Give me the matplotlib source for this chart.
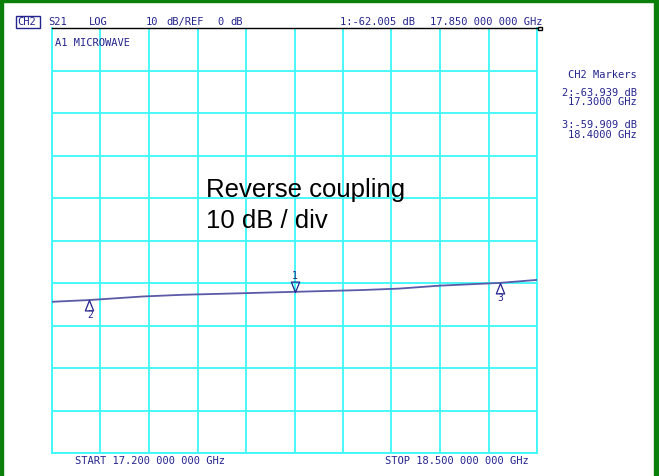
import matplotlib
matplotlib.use("Agg")
import matplotlib.pyplot as plt
from matplotlib.patches import Rectangle
from matplotlib.path import Path

# trace (GHz, dB)
freq = [17.2, 17.3, 17.444, 17.551, 17.704, 17.85, 18.026, 18.13, 18.24, 18.4, 18.5]
s21 = [-64.35, -63.939, -63.1, -62.7, -62.35, -62.005, -61.6, -61.25, -60.55, -59.909, -59.2]

mk_names = ["1", "2", "3"]
mk_freq = [17.85, 17.3, 18.4]
mk_db = [-62.005, -63.939, -59.909]

f_start, f_stop = 17.2, 18.5
ref_db, db_div, n_div = 0, 10, 10

header = ["S21", "LOG", "10", "dB/REF", "0", "dB", "1:-62.005 dB", "17.850 000 000 GHz"]
header_x = [48, 89, 145.5, 166.5, 217, 230, 340, 430]
side_lines = ["CH2 Markers", "2:-63.939 dB", "17.3000 GHz", "3:-59.909 dB", "18.4000 GHz"]
side_y = [78.5, 96, 105, 128.5, 137.5]

W, H = 659, 476
navy = "#24248f"
trace_c = "#5a5aa8"
grid_c = "#3cf8f8"
green = "#0a800a"
mono = "DejaVu Sans Mono"

fig = plt.figure(figsize=(W / 100, H / 100), dpi=100)
fig.patch.set_facecolor("white")

def px(x, y):
    return x / W, 1 - y / H

def ftext(x, y, s, **kw):
    kw.setdefault("family", mono)
    kw.setdefault("fontsize", 7.5)
    kw.setdefault("color", navy)
    fig.text(*px(x, y), s, va="baseline", **kw)

left, top, right, bottom = 52, 28.3, 537, 453.3
ax = fig.add_axes([left / W, 1 - bottom / H, (right - left) / W, (bottom - top) / H])
ax.set_xlim(f_start, f_stop)
ax.set_ylim(ref_db - n_div * db_div, ref_db)
step = (f_stop - f_start) / n_div
ax.set_xticks([f_start + i * step for i in range(n_div + 1)])
ax.set_yticks([ref_db - i * db_div for i in range(n_div + 1)])
ax.tick_params(length=0, labelbottom=False, labelleft=False)
ax.grid(True, color=grid_c, lw=1.3)
for s in ["left", "right", "bottom"]:
    ax.spines[s].set_color(grid_c)
    ax.spines[s].set_linewidth(1.3)
ax.spines["top"].set_color("black")
ax.spines["top"].set_linewidth(1.0)

ax.plot(freq, s21, color=trace_c, lw=1.3, zorder=3)

# marker triangles, apex sitting on the trace
tri_up = Path([(0, 0), (-0.4, -1), (0.4, -1), (0, 0)], [1, 2, 2, 79])
tri_dn = Path([(0, 0), (-0.4, 1), (0.4, 1), (0, 0)], [1, 2, 2, 79])
for name, f, d in zip(mk_names, mk_freq, mk_db):
    above = name == "1"
    ax.plot([f], [d], marker=tri_dn if above else tri_up, ms=15,
            mfc="none", mec=navy, mew=0.9, zorder=4)
    ax.annotate(name, (f, d), xytext=(0.5, 11.5 if above else -11),
                textcoords="offset points", ha="center", va="center",
                family=mono, fontsize=7, color=navy)

tx = f_start + (206.5 - left) / (right - left) * (f_stop - f_start)
ax.text(tx, -100 + (bottom - 196.7) / (bottom - top) * 100,
        "Reverse coupling", family="Liberation Sans", fontsize=18.5, va="baseline")
ax.text(tx, -100 + (bottom - 228.3) / (bottom - top) * 100,
        "10 dB / div", family="Liberation Sans", fontsize=18.5, va="baseline")

# header line
ftext(17, 25, "CH2")
fig.add_artist(Rectangle(px(15.5, 27.5), 24 / W, 11 / H, fill=False,
                         ec=navy, lw=1.0, transform=fig.transFigure))
for s, x in zip(header, header_x):
    ftext(x, 25, s)
ftext(55, 46, "A1 MICROWAVE")

# reference position indicator
fig.add_artist(Rectangle(px(537.5, 30), 4 / W, 3.5 / H, fill=False,
                         ec="black", lw=1.0, transform=fig.transFigure))

# marker readout on the right
for s, y in zip(side_lines, side_y):
    ftext(637, y, s, ha="right")

ftext(75, 463.5, "START 17.200 000 000 GHz")
ftext(529, 463.5, "STOP 18.500 000 000 GHz", ha="right")

# green frame
fig.add_artist(Rectangle((0, 0), 3 / W, 1, color=green, transform=fig.transFigure))
fig.add_artist(Rectangle((654 / W, 0), 5 / W, 1, color=green, transform=fig.transFigure))
fig.add_artist(Rectangle((0, 1 - 2 / H), 1, 2 / H, color=green, transform=fig.transFigure))

fig.savefig("out.png", dpi=100)
